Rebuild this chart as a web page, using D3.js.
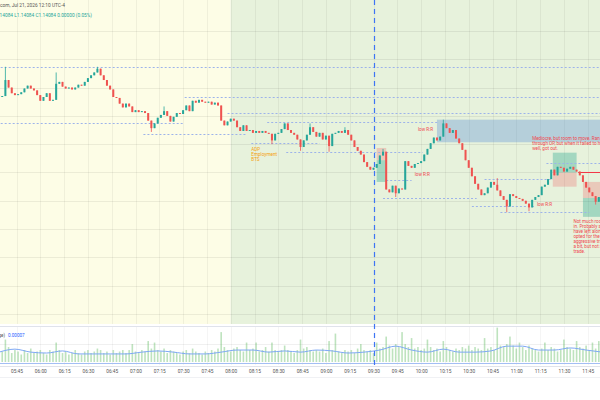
<!DOCTYPE html>
<html>
<head>
<meta charset="utf-8">
<script src="https://cdn.jsdelivr.net/npm/d3@7"></script>
<style>
  html, body { margin: 0; padding: 0; background: #fff; overflow: hidden; }
  svg { display: block; font-family: Roboto, "Liberation Sans", sans-serif; }
</style>
</head>
<body>
<svg id="chart" width="600" height="400"></svg>
<script>
// EUR/USD, 2 minute bars from 05:34 to 11:52
const startTime = '05:34'
const firstOpen = 1.14192
const closes = [
  1.14190, 1.14191, 1.14208, 1.14200, 1.14194, 1.14192, 1.14193, 1.14195, 1.14199, 1.14202,
  1.14199, 1.14197, 1.14192, 1.14186, 1.14190, 1.14194, 1.14186, 1.14187, 1.14204, 1.14206,
  1.14201, 1.14199, 1.14200, 1.14198, 1.14200, 1.14203, 1.14202, 1.14206, 1.14210, 1.14213,
  1.14216, 1.14220, 1.14213, 1.14208, 1.14202, 1.14198, 1.14190, 1.14189, 1.14183, 1.14179,
  1.14183, 1.14180, 1.14174, 1.14176, 1.14174, 1.14175, 1.14173, 1.14165, 1.14157, 1.14162,
  1.14168, 1.14171, 1.14175, 1.14170, 1.14164, 1.14169, 1.14173, 1.14172, 1.14176, 1.14181,
  1.14175, 1.14186, 1.14184, 1.14187, 1.14185, 1.14184, 1.14185, 1.14182, 1.14184, 1.14181,
  1.14165, 1.14160, 1.14164, 1.14167, 1.14165, 1.14158, 1.14154, 1.14160, 1.14154, 1.14155,
  1.14152, 1.14154, 1.14152, 1.14154, 1.14152, 1.14151, 1.14144, 1.14151, 1.14152, 1.14156,
  1.14162, 1.14155, 1.14152, 1.14150, 1.14145, 1.14137, 1.14144, 1.14150, 1.14158, 1.14153,
  1.14148, 1.14152, 1.14145, 1.14149, 1.14138, 1.14151, 1.14152, 1.14154, 1.14152, 1.14155,
  1.14150, 1.14144, 1.14137, 1.14133, 1.14129, 1.14121, 1.14116, 1.14113, 1.14115, 1.14119,
  1.14128, 1.14132, 1.14092, 1.14089, 1.14096, 1.14088, 1.14093, 1.14092, 1.14122, 1.14117,
  1.14115, 1.14119, 1.14120, 1.14122, 1.14129, 1.14135, 1.14141, 1.14147, 1.14144, 1.14148,
  1.14162, 1.14157, 1.14152, 1.14155, 1.14146, 1.14141, 1.14134, 1.14123, 1.14115, 1.14106,
  1.14098, 1.14092, 1.14086, 1.14088, 1.14094, 1.14100, 1.14097, 1.14091, 1.14085, 1.14081,
  1.14074, 1.14087, 1.14085, 1.14083, 1.14082, 1.14080, 1.14077, 1.14073, 1.14081, 1.14084,
  1.14086, 1.14095, 1.14097, 1.14103, 1.14113, 1.14107, 1.14116, 1.14115, 1.14111, 1.14114,
  1.14116, 1.14113, 1.14111, 1.14107, 1.14100, 1.14094, 1.14089, 1.14085, 1.14079, 1.14084
]
// wicks that reach past the body: [bar index, price]
const wickHighs = [[2, 1.14222], [18, 1.14216], [31, 1.14222], [52, 1.14180], [98, 1.14162],
  [109, 1.14158], [121, 1.14135], [140, 1.14166], [157, 1.14104]]
const wickLows = [[48, 1.14153], [86, 1.14140], [95, 1.14133], [104, 1.14132], [125, 1.14084],
  [160, 1.14068], [167, 1.14069], [188, 1.14076]]

// lower pane: bar range, in units of 0.00001
const rangeVals = [
  4, 3.5, 7.5, 5, 3, 4, 3.5, 2.5, 4, 3,
  4.5, 3, 3.5, 4, 3, 2.5, 4, 3.5, 6.5, 4,
  3, 3.5, 2.5, 3, 4, 3, 2.5, 3.5, 4, 3,
  3.5, 4.5, 4, 3, 3.5, 2.5, 4, 3, 3.5, 4,
  3, 4, 6, 3.5, 3, 4, 3.5, 7, 4.5, 6.5,
  4, 3.5, 4.5, 3, 4, 3.5, 3, 2.5, 3.5, 4,
  3, 4.5, 3.5, 3, 2.5, 3.5, 3, 4, 3.5, 4.5,
  10, 5, 4, 3.5, 4.5, 5, 4, 3.5, 6.5, 4,
  4.5, 6.5, 3.5, 4, 5, 3.5, 6.5, 4, 3.5, 4,
  5.5, 4, 3.5, 3, 4, 7.5, 4.5, 5, 4, 3.5,
  4, 3.5, 4.5, 3, 7, 4, 9.5, 3.5, 3, 4,
  3.5, 4, 3, 4.5, 6, 4, 3.5, 4, 3, 6.5,
  4.5, 5, 8.5, 5.5, 4.5, 6, 5, 10, 6, 5,
  8, 4.5, 5, 4, 4.5, 7.5, 5, 4, 4.5, 3.5,
  7, 5, 4, 3.5, 4.5, 4, 5, 4.5, 5.5, 4,
  5, 4.5, 4, 8, 4.5, 5, 4, 11.5, 5.5, 5,
  6, 8.5, 5.5, 4.5, 6.5, 5, 4, 5.5, 4.5, 4,
  3.5, 4.5, 6.5, 4, 5, 4.5, 3.5, 4, 7.5, 5,
  4.5, 4, 7, 5, 4.5, 5.5, 4, 6.5, 4.5, 7
]
// average line of the lower pane, one value every 5 bars
const rangeAvg = [3.3, 4.3, 3.3, 3, 3.7, 2.7, 2.7, 2.7, 2.7, 3.3, 3.7, 3.3, 2.7, 2.7, 3.3, 4, 4, 3.3,
  3.7, 3.3, 4, 3.7, 3, 3.3, 4, 5.3, 4, 3.3, 4.3, 3.3, 3.3, 3.7, 5.3, 5.3, 4, 4, 4.7, 4, 3.3]

const priceTicks = [1.1396, 1.1399, 1.1402, 1.1405, 1.1408, 1.1411, 1.1414, 1.1417, 1.1420, 1.1423, 1.1426]
const sessionStart = '08:00'
const markerTime = '09:30'

// dotted levels: [price, from, to]
const levels = [
  [1.14222, '05:30', '11:56'], [1.14190, '07:31', '11:56'], [1.14173, '07:58', '11:56'],
  [1.14164, '08:23', '10:11'], [1.14162, '05:30', '07:30'], [1.14151, '07:05', '08:10'],
  [1.14141, '08:13', '08:56'], [1.14132, '08:35', '10:01'], [1.14120, '11:19', '11:56'],
  [1.14102, '09:38', '09:54'], [1.14103, '10:40', '11:23'], [1.14083, '09:36', '10:35'],
  [1.14075, '10:32', '11:12'], [1.14068, '10:50', '11:46']
]
const zone = { from: '10:10', to: '11:56', top: 1.14166, bottom: 1.14142 }
// position tools: entry, stop, target
const trades = [
  { from: '09:32', to: '09:38', entry: 1.14123, stop: 1.14136, target: 1.14100 },
  { from: '11:23', to: '11:38', entry: 1.14110, stop: 1.14095, target: 1.14131 },
  { from: '11:42', to: '11:56', entry: 1.14083, stop: 1.14100, target: 1.14063 }
]
const stopLine = { from: '11:39', to: '11:56', price: 1.14110 }

const notes = [
  { time: '09:58', price: 1.14154, kind: 'trade', lines: ['low R:R'] },
  { time: '09:56', price: 1.14106, kind: 'trade', lines: ['low R:R'] },
  { time: '11:13', price: 1.14075, kind: 'trade', lines: ['low R:R'] },
  { time: '11:10', price: 1.14144, kind: 'trade',
    lines: ['Mediocre, but room to move. Ran', 'through OP, but when it failed to hold', 'well, got out.'] },
  { time: '11:36', price: 1.14057, kind: 'trade',
    lines: ['Not much room to get', 'in. Probably should', 'have left alone or', 'opted for the',
      'aggressive trade as', 'a bit, but not a', 'trade.'] },
  { time: '08:13', price: 1.14133, kind: 'news', lines: ['ADP', 'Employment', 'BTS'] }
]

const headerDate = 'Published on TradingView.com, Jul 21, 2026 12:10 UTC-4'
const headerOhlc = 'O1.14084 H1.14084 L1.14084 C1.14084 0.00000 (0.05%)'
const rangeLabel = '(True Range)'

// ---------------------------------------------------------------
const T = s => { const [h, m] = s.split(':').map(Number); return new Date(2026, 6, 21, h, m) }
const W = 600
const mainBottom = 324

const x = d3.scaleTime()
  .domain([new Date(2026, 6, 21, 5, 34, 36), new Date(2026, 6, 21, 11, 52, 45)])
  .range([0, W])
const y = d3.scaleLinear().domain([1.139505, 1.142928]).range([323, 0])
const yInd = d3.scaleLinear().domain([0, 11.7]).range([362, 327])

const highMap = new Map(wickHighs)
const lowMap = new Map(wickLows)
const t0 = T(startTime)
const bars = closes.map((c, i) => {
  const open = i ? closes[i - 1] : firstOpen
  return {
    time: d3.timeMinute.offset(t0, 2 * i),
    open,
    close: c,
    high: Math.max(open, c, highMap.get(i) || 0),
    low: Math.min(open, c, lowMap.get(i) || 9)
  }
})

const svg = d3.select('#chart')

// session backgrounds
svg.append('rect').attr('x', 0).attr('y', 0)
  .attr('width', x(T(sessionStart))).attr('height', mainBottom)
  .attr('fill', '#fdfde6')
svg.append('rect').attr('x', x(T(sessionStart))).attr('y', 0)
  .attr('width', W - x(T(sessionStart))).attr('height', mainBottom)
  .attr('fill', '#e7f2dc')

// grid
const timeTicks = x.ticks(d3.timeMinute.every(15))
svg.append('g').selectAll('line').data(timeTicks).join('line')
  .attr('x1', d => Math.round(x(d)) + 0.5).attr('x2', d => Math.round(x(d)) + 0.5)
  .attr('y1', 0).attr('y2', mainBottom)
  .attr('stroke', 'rgba(0,0,0,0.05)')
svg.append('g').selectAll('line').data(priceTicks).join('line')
  .attr('x1', 0).attr('x2', W)
  .attr('y1', d => Math.round(y(d)) + 0.5).attr('y2', d => Math.round(y(d)) + 0.5)
  .attr('stroke', 'rgba(0,0,0,0.065)')

// blue zone
svg.append('rect')
  .attr('x', x(T(zone.from))).attr('y', y(zone.top))
  .attr('width', x(T(zone.to)) - x(T(zone.from)))
  .attr('height', y(zone.bottom) - y(zone.top))
  .attr('fill', '#5a8fd8').attr('opacity', 0.35)

// position boxes
trades.forEach(tr => {
  const x0 = x(T(tr.from))
  const w = x(T(tr.to)) - x0
  svg.append('rect').attr('x', x0).attr('width', w)
    .attr('y', y(Math.max(tr.entry, tr.stop))).attr('height', Math.abs(y(tr.stop) - y(tr.entry)))
    .attr('fill', '#f23645').attr('opacity', 0.22)
  svg.append('rect').attr('x', x0).attr('width', w)
    .attr('y', y(Math.max(tr.entry, tr.target))).attr('height', Math.abs(y(tr.target) - y(tr.entry)))
    .attr('fill', '#089981').attr('opacity', 0.3)
})
svg.append('line')
  .attr('x1', x(T(stopLine.from))).attr('x2', x(T(stopLine.to)))
  .attr('y1', y(stopLine.price)).attr('y2', y(stopLine.price))
  .attr('stroke', '#f23645').attr('stroke-width', 1)

// dotted levels
svg.append('g').selectAll('line').data(levels).join('line')
  .attr('x1', d => x(T(d[1]))).attr('x2', d => x(T(d[2])))
  .attr('y1', d => Math.round(y(d[0])) + 0.5).attr('y2', d => Math.round(y(d[0])) + 0.5)
  .attr('stroke', '#9db3ea').attr('stroke-width', 1)
  .attr('stroke-dasharray', '2,2')

// candles
const candle = svg.append('g').selectAll('g').data(bars).join('g')
  .attr('fill', d => d.close >= d.open ? '#26a69a' : '#ef5350')
  .attr('stroke', d => d.close >= d.open ? '#26a69a' : '#ef5350')
candle.append('line')
  .attr('x1', d => x(d.time)).attr('x2', d => x(d.time))
  .attr('y1', d => y(d.high)).attr('y2', d => y(d.low))
  .attr('stroke-width', 0.8)
candle.append('rect')
  .attr('x', d => x(d.time) - 1).attr('width', 2)
  .attr('y', d => y(Math.max(d.open, d.close)))
  .attr('height', d => Math.max(0.8, Math.abs(y(d.open) - y(d.close))))
  .attr('stroke', 'none')

// notes
notes.forEach(n => {
  const t = svg.append('text')
    .attr('x', x(T(n.time))).attr('y', y(n.price))
    .attr('font-size', 4.6)
    .attr('fill', n.kind === 'news' ? '#f5a10f' : '#f0474f')
  n.lines.forEach((l, i) => t.append('tspan').attr('x', x(T(n.time))).attr('dy', i ? 5 : 0).text(l))
})

// header
svg.append('text').attr('x', 65).attr('y', 7).attr('text-anchor', 'end')
  .attr('font-size', 4.8).attr('fill', '#555').text(headerDate)
svg.append('text').attr('x', 92).attr('y', 17).attr('text-anchor', 'end')
  .attr('font-size', 4.8).attr('fill', '#26a69a').text(headerOhlc)

// lower pane
svg.append('rect').attr('x', 0).attr('y', 326).attr('width', W).attr('height', 40).attr('fill', '#fff')
svg.append('line').attr('x1', 0).attr('x2', W).attr('y1', 326.5).attr('y2', 326.5).attr('stroke', '#e0e3eb')
svg.append('g').selectAll('line').data(timeTicks).join('line')
  .attr('x1', d => Math.round(x(d)) + 0.5).attr('x2', d => Math.round(x(d)) + 0.5)
  .attr('y1', 327).attr('y2', 365)
  .attr('stroke', 'rgba(0,0,0,0.04)')
svg.append('line').attr('x1', 0).attr('x2', W)
  .attr('y1', Math.round(yInd(6)) + 0.5).attr('y2', Math.round(yInd(6)) + 0.5)
  .attr('stroke', 'rgba(0,0,0,0.06)')
svg.append('g').selectAll('rect').data(rangeVals).join('rect')
  .attr('x', (d, i) => x(bars[i].time) - 0.8).attr('width', 1.6)
  .attr('y', d => yInd(d)).attr('height', d => yInd(0) - yInd(d))
  .attr('fill', '#5cb85c').attr('opacity', 0.4)
svg.append('path')
  .datum(rangeAvg)
  .attr('fill', 'none').attr('stroke', '#7ea8f4').attr('stroke-width', 1)
  .attr('d', d3.line()
    .x((d, i) => x(d3.timeMinute.offset(t0, 10 * i)))
    .y(d => yInd(d))
    .curve(d3.curveMonotoneX))
svg.append('line').attr('x1', 0).attr('x2', W)
  .attr('y1', 363.5).attr('y2', 363.5).attr('stroke', '#a3bef4').attr('stroke-width', 1)
svg.append('text').attr('x', 5).attr('y', 337).attr('text-anchor', 'end')
  .attr('font-size', 4.6).attr('fill', '#555').text(rangeLabel)
svg.append('text').attr('x', 8).attr('y', 337)
  .attr('font-size', 4.6).attr('fill', '#2962ff')
  .text(d3.format('.5f')(rangeVals[rangeVals.length - 1] * 1e-5))

// session marker
svg.append('line')
  .attr('x1', Math.round(x(T(markerTime))) + 0.5).attr('x2', Math.round(x(T(markerTime))) + 0.5)
  .attr('y1', 0).attr('y2', 366)
  .attr('stroke', '#3d74f5').attr('stroke-width', 1.2)
  .attr('stroke-dasharray', '5,4')

// time axis
svg.append('line').attr('x1', 0).attr('x2', W).attr('y1', 366.5).attr('y2', 366.5).attr('stroke', '#e0e3eb')
svg.append('line').attr('x1', 0).attr('x2', W).attr('y1', 377.5).attr('y2', 377.5).attr('stroke', '#f0f1f4')
const axis = svg.append('g').attr('transform', 'translate(0,366)')
  .call(d3.axisBottom(x).ticks(d3.timeMinute.every(15)).tickFormat(d3.timeFormat('%H:%M'))
    .tickSize(0).tickPadding(4))
axis.select('.domain').remove()
axis.selectAll('text').attr('font-size', 4.8).attr('fill', '#555')
  .attr('font-family', 'Roboto, "Liberation Sans", sans-serif')
</script>
</body>
</html>
